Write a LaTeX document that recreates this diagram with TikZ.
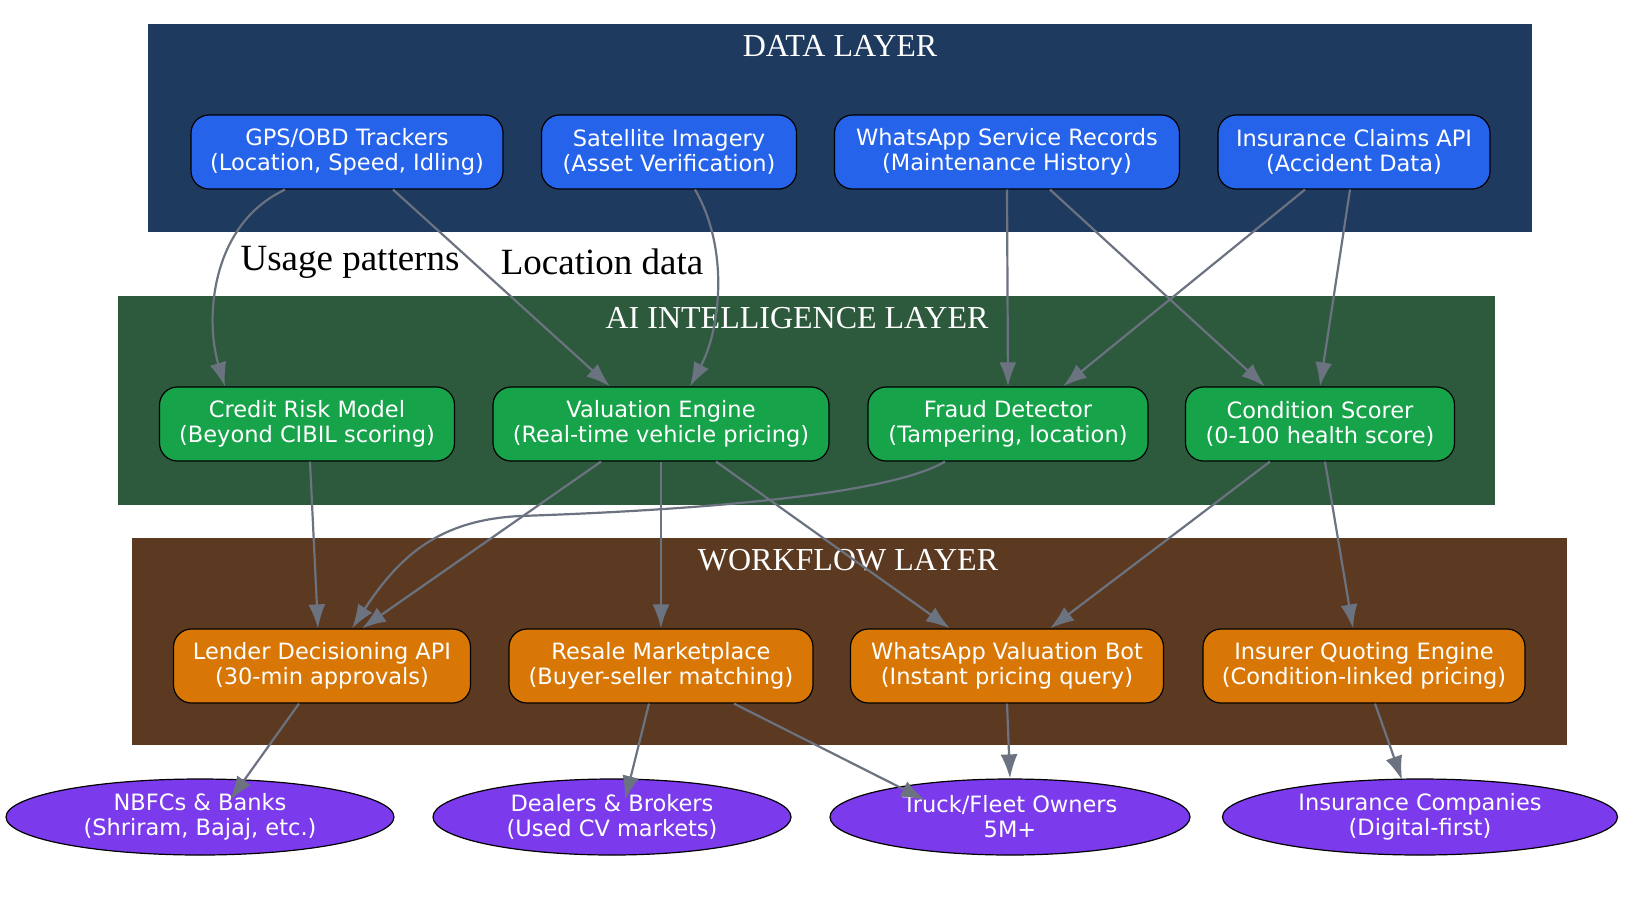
\documentclass[tikz,border=0pt]{standalone}
\usepackage{fontspec}
\setmainfont{Liberation Serif}
\newfontfamily\nodefont{DejaVu Sans}
\usetikzlibrary{shapes.geometric,arrows.meta}
\definecolor{dbg}{HTML}{1E3A5F}\definecolor{dnode}{HTML}{2563EB}
\definecolor{abg}{HTML}{2D5A3D}\definecolor{anode}{HTML}{16A34A}
\definecolor{wbg}{HTML}{5C3A21}\definecolor{wnode}{HTML}{D97706}
\definecolor{enode}{HTML}{7C3AED}\definecolor{edgec}{HTML}{6B7280}
\begin{document}
\begin{tikzpicture}[x=1pt,y=-1pt,
 box/.style={draw=black,line width=1.2pt,rounded corners=18pt,text=white,align=center,font=\nodefont\fontsize{22.5}{25}\selectfont,minimum height=74pt,inner xsep=6pt},
 dn/.style={box,fill=dnode},an/.style={box,fill=anode},wn/.style={box,fill=wnode},
 en/.style={ellipse,draw=black,line width=1.2pt,fill=enode,text=white,align=center,font=\nodefont\fontsize{22.5}{25}\selectfont,minimum height=76pt,inner sep=0pt},
 title/.style={text=white,font=\fontsize{32}{36}\selectfont},
 lab/.style={font=\fontsize{37}{40}\selectfont,inner sep=1pt},
 e/.style={draw=edgec,line width=2.2pt,-{Latex[length=24pt,width=17pt]}}]
\useasboundingbox (0,0) rectangle (1626,903);
\fill[dbg] (148,24) rectangle (1532,232);
\fill[abg] (118,296) rectangle (1495,505);
\fill[wbg] (132,538) rectangle (1567,745);
\node[title] (t1) at (840,46) {DATA LAYER};
\node[title] (t2) at (797,318) {AI INTELLIGENCE LAYER};
\node[title] (t3) at (848,560) {WORKFLOW LAYER};
\node[dn,minimum width=312pt] (gps) at (347,152) {GPS/OBD Trackers\\(Location, Speed, Idling)};
\node[dn,minimum width=255pt] (sat) at (669,152) {Satellite Imagery\\(Asset Verification)};
\node[dn,minimum width=345pt] (wsr) at (1007,152) {WhatsApp Service Records\\(Maintenance History)};
\node[dn,minimum width=272pt] (ins) at (1354,152) {Insurance Claims API\\(Accident Data)};
\node[an,minimum width=295pt] (cr) at (307,424) {Credit Risk Model\\(Beyond CIBIL scoring)};
\node[an,minimum width=336pt] (val) at (661,424) {Valuation Engine\\(Real-time vehicle pricing)};
\node[an,minimum width=280pt] (fr) at (1008,424) {Fraud Detector\\(Tampering, location)};
\node[an,minimum width=269pt] (cs) at (1320,424) {Condition Scorer\\(0-100 health score)};
\node[wn,minimum width=297pt] (ld) at (322,666) {Lender Decisioning API\\(30-min approvals)};
\node[wn,minimum width=304pt] (rm) at (661,666) {Resale Marketplace\\(Buyer-seller matching)};
\node[wn,minimum width=313pt] (wb) at (1007,666) {WhatsApp Valuation Bot\\(Instant pricing query)};
\node[wn,minimum width=322pt] (iq) at (1364,666) {Insurer Quoting Engine\\(Condition-linked pricing)};
\node[en,minimum width=388pt] (nb) at (200,817) {NBFCs \& Banks\\(Shriram, Bajaj, etc.)};
\node[en,minimum width=358pt] (dl) at (612,817) {Dealers \& Brokers\\(Used CV markets)};
\node[en,minimum width=360pt] (tf) at (1010,817) {Truck/Fleet Owners\\5M+};
\node[en,minimum width=395pt] (ic) at (1420,817) {Insurance Companies\\(Digital-first)};
\draw[e] ([xshift=-62]gps.south) .. controls (210,225) and (205,320) .. ([xshift=-82]cr.north);
\draw[e] ([xshift=46]gps.south) -- ([xshift=-51]val.north);
\draw[e] ([xshift=26]sat.south) .. controls (730,250) and (720,330) .. ([xshift=29]val.north);
\draw[e] (wsr.south) -- (fr.north);
\draw[e] ([xshift=43]wsr.south) -- ([xshift=-55]cs.north);
\draw[e] ([xshift=-49]ins.south) -- ([xshift=55]fr.north);
\draw[e] ([xshift=-4]ins.south) -- ([xshift=0]cs.north);
\node[lab] (l1) at (350,262) {Usage patterns};
\node[lab] (l2) at (602,262) {Location data};
\draw[e] ([xshift=3]cr.south) -- ([xshift=-4]ld.north);
\draw[e] ([xshift=-63]fr.south) .. controls (880,500) and (640,512) .. (520,516) .. controls (440,520) and (400,555) .. ([xshift=30]ld.north);
\draw[e] ([xshift=-60]val.south) -- ([xshift=40]ld.north);
\draw[e] (val.south) -- (rm.north);
\draw[e] ([xshift=55]val.south) -- ([xshift=-57]wb.north);
\draw[e] ([xshift=-50]cs.south) -- ([xshift=43]wb.north);
\draw[e] ([xshift=5]cs.south) -- ([xshift=-11]iq.north);
\draw[e] ([xshift=-23]ld.south) -- (230,800);
\draw[e] ([xshift=-12]rm.south) -- (625,800);
\draw[e] ([xshift=73]rm.south) -- (925,800);
\draw[e] (wb.south) -- (tf.north);
\draw[e] ([xshift=11]iq.south) -- (1402,780);
\end{tikzpicture}
\end{document}
